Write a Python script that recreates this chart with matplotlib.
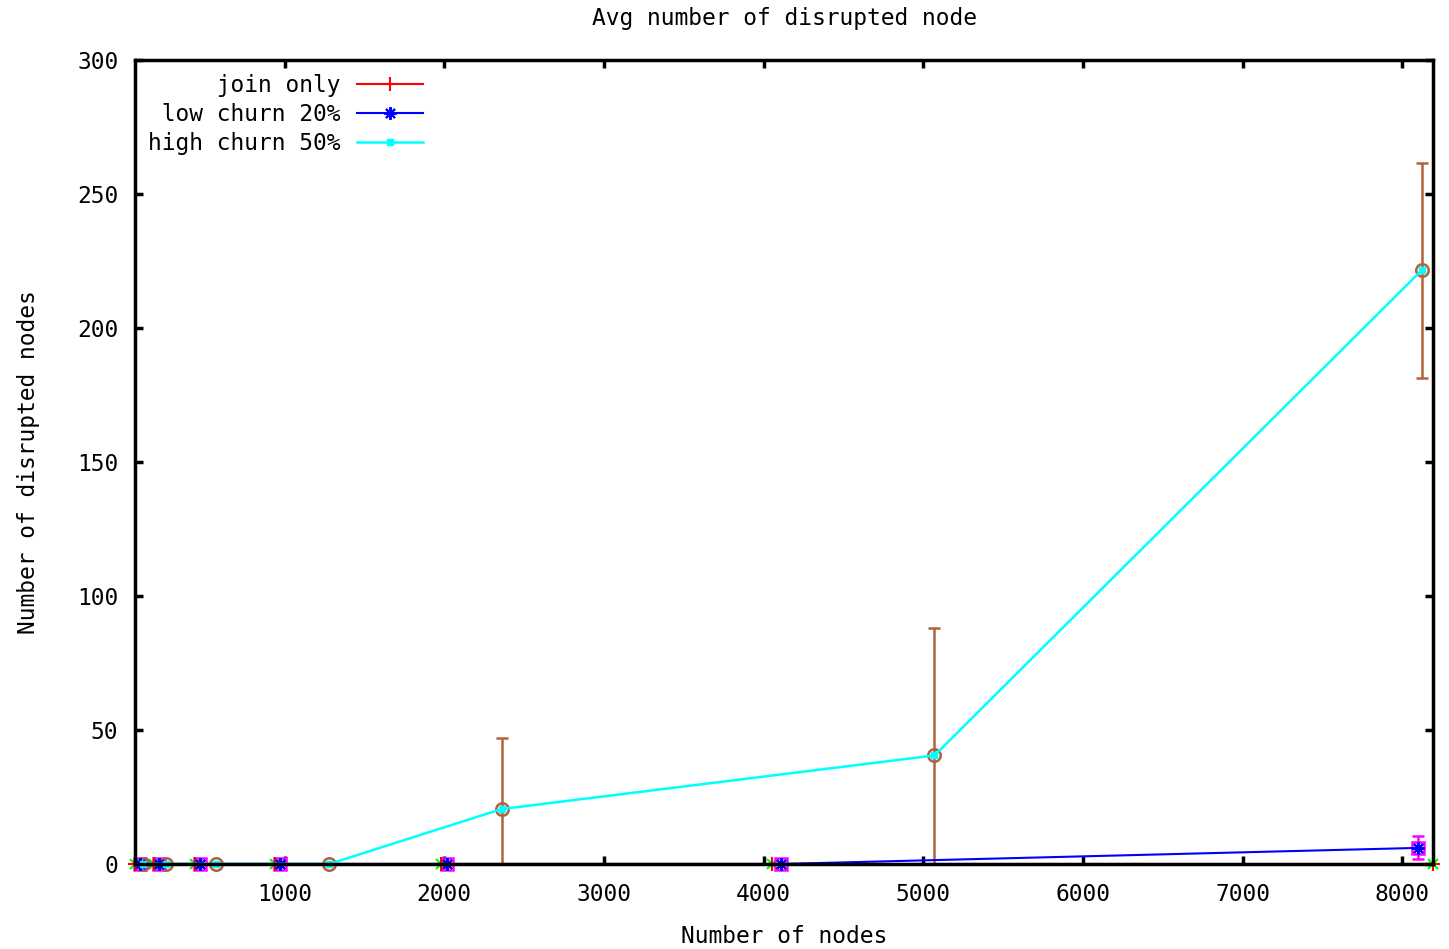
import matplotlib
matplotlib.use('Agg')
import matplotlib.pyplot as plt

# data
join_x = [64, 180, 440, 940, 1980, 4050, 8192]
join_y = [0, 0, 0, 0, 0, 0, 0]
join_err = [0, 0, 0, 0, 0, 0, 0]

low_x = [95, 215, 470, 970, 2020, 4110, 8100]
low_y = [0, 0, 0, 0, 0, 0, 6]
low_err = [0, 0, 0, 0, 0, 0, 4.3]

high_x = [115, 260, 570, 1280, 2360, 5070, 8120]
high_y = [0, 0, 0, 0, 20.5, 40.5, 221.5]
high_err = [0, 0, 0, 0, 26.5, 47.5, 40]

xticks = [1000, 2000, 3000, 4000, 5000, 6000, 7000, 8000]
yticks = [0, 50, 100, 150, 200, 250, 300]

plt.rcParams['font.family'] = ['DejaVu Sans Mono']
plt.rcParams['font.size'] = 16.5

fig = plt.figure(figsize=(14.49, 9.49), dpi=100)
ax = fig.add_axes([0.0932, 0.0896, 0.8958, 0.8472])


def err_set(x, y, e, fmt, col, **kw):
    # bars clipped at the axes like gnuplot, markers allowed on the border
    mk, caps, bars = ax.errorbar(x, y, yerr=e, fmt=fmt, color=col, capsize=4.5,
                                 elinewidth=1.8, zorder=2, **kw)
    mk.set_clip_on(False)
    for c in caps:
        c.set_clip_on(True)
    for b in bars:
        b.set_clip_on(True)


# error bar sets (no legend entries)
err_set(join_x, join_y, join_err, 'x', '#00ff00', ms=7, mew=1.5)
err_set(low_x, low_y, low_err, 's', '#ff00ff', mfc='none', ms=9, mew=1.8)
err_set(high_x, high_y, high_err, 'o', '#b0623d', mfc='none', ms=9, mew=1.8)

# main lines
ax.plot(join_x, join_y, '-', color='#ff0000', marker='+', ms=10, mew=1.5, lw=1.5,
        label='     join only', clip_on=False, zorder=2.1)
ax.plot(low_x, low_y, '-', color='#0000ff', marker=(8, 2, 0), ms=9, mew=1.5, lw=1.5,
        label=' low churn 20%', clip_on=False, zorder=2.1)
ax.plot(high_x, high_y, '-', color='#00ffff', marker='s', ms=5, lw=1.8,
        label='high churn 50%', clip_on=False, zorder=2.1)

ax.set_xlim(64, 8192)
ax.set_ylim(0, 300)
ax.set_xticks(xticks)
ax.set_yticks(yticks)
ax.tick_params(direction='in', length=6, width=2.5, top=True, right=True, labelsize=16.5)
ax.tick_params(axis='x', pad=14)
ax.tick_params(axis='y', pad=12)
for s in ax.spines.values():
    s.set_linewidth(2.5)
    s.set_zorder(3)

ax.set_title('Avg number of disrupted node', fontsize=16.5, pad=25)
ax.set_xlabel('Number of nodes', fontsize=16.5)
ax.set_ylabel('Number of disrupted nodes', fontsize=16.5)
ax.xaxis.set_label_coords(0.5, -0.0759)
ax.yaxis.set_label_coords(-0.0732, 0.5)

ax.legend(loc='upper left', bbox_to_anchor=(-0.0024, 1.003), frameon=False,
          markerfirst=False, handlelength=2.9, handletextpad=0.7,
          labelspacing=0.27, borderpad=0.2, fontsize=16.5)

fig.savefig('out.png', dpi=100)
